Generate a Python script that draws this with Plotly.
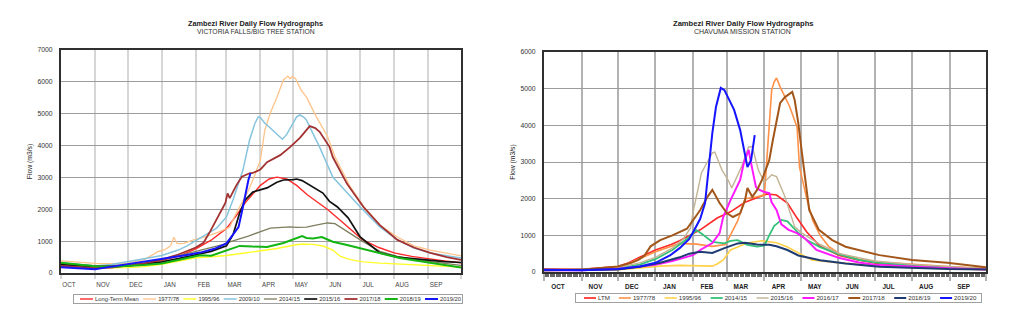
import plotly.graph_objects as go

# ---------------- common axis data ----------------
MONTHS = ["OCT", "NOV", "DEC", "JAN", "FEB", "MAR", "APR", "MAY", "JUN", "JUL", "AUG", "SEP", ""]
MONTH_START_DAYS = [0, 31, 61, 92, 123, 151, 182, 212, 243, 273, 304, 335, 365]

# ---------------- Victoria Falls / Big Tree (left) ----------------
VF_NAMES = ["Long-Term Mean", "1977/78", "1995/96", "2009/10", "2014/15",
            "2015/16", "2017/18", "2018/19", "2019/20"]

vf_ltm_d = [0, 15, 31, 46, 61, 76, 92, 107, 123, 137, 151, 160, 168, 182, 190, 197, 206, 215, 225, 235, 243, 255, 264, 275, 290, 304, 320, 335, 350, 365]
vf_ltm_v = [250, 210, 180, 200, 250, 300, 400, 520, 760, 1030, 1400, 1800, 2200, 2750, 2950, 3010, 2950, 2750, 2450, 2200, 2000, 1650, 1380, 1050, 800, 630, 520, 440, 380, 320]

vf_7778_d = [0, 15, 31, 46, 61, 76, 88, 95, 100, 103, 106, 112, 121, 133, 145, 154, 159, 165, 170, 176, 182, 186, 191, 197, 203, 207, 209, 211, 214, 219, 224, 233, 243, 250, 264, 276, 291, 307, 322, 337, 352, 365]
vf_7778_v = [380, 340, 300, 290, 310, 420, 660, 740, 850, 1120, 920, 930, 1040, 1150, 1300, 1440, 1820, 2200, 2510, 3000, 3550, 4490, 5020, 5520, 6060, 6180, 6100, 6170, 6100, 5750, 5520, 4900, 4300, 3650, 2700, 2100, 1500, 1130, 850, 720, 620, 540]

vf_9596_d = [0, 15, 31, 46, 61, 76, 92, 107, 123, 137, 151, 166, 182, 197, 212, 220, 230, 240, 248, 255, 264, 276, 291, 309, 335, 350, 365]
vf_9596_v = [230, 200, 170, 160, 170, 200, 270, 360, 480, 510, 550, 620, 690, 770, 870, 910, 900, 840, 720, 520, 420, 350, 310, 280, 240, 210, 190]

vf_0910_d = [0, 15, 31, 46, 61, 76, 92, 107, 115, 127, 142, 151, 157, 166, 172, 177, 180, 182, 186, 191, 197, 202, 206, 211, 215, 218, 222, 224, 230, 236, 248, 261, 273, 291, 307, 322, 337, 352, 365]
vf_0910_v = [320, 270, 220, 270, 350, 450, 550, 720, 850, 1100, 1410, 1760, 2300, 3230, 4170, 4700, 4900, 4880, 4700, 4550, 4350, 4200, 4350, 4650, 4900, 4960, 4880, 4800, 4400, 3950, 3010, 2510, 2070, 1450, 1040, 780, 630, 540, 470]

vf_1415_d = [0, 15, 31, 46, 61, 76, 92, 107, 123, 137, 151, 154, 171, 191, 209, 215, 224, 235, 243, 250, 261, 273, 291, 307, 322, 337, 352, 365]
vf_1415_v = [300, 260, 230, 230, 260, 320, 420, 540, 680, 800, 920, 980, 1160, 1410, 1450, 1430, 1440, 1520, 1570, 1550, 1300, 1040, 680, 520, 420, 350, 290, 240]

vf_1516_d = [0, 15, 31, 46, 61, 76, 92, 107, 123, 137, 151, 157, 163, 168, 175, 182, 188, 197, 203, 212, 215, 220, 230, 239, 245, 252, 262, 273, 291, 307, 321, 335, 350, 365]
vf_1516_v = [260, 230, 200, 200, 220, 280, 350, 450, 560, 680, 850, 1200, 1880, 2290, 2540, 2600, 2670, 2850, 2920, 2930, 2950, 2900, 2700, 2510, 2250, 2080, 1730, 1130, 630, 500, 450, 400, 360, 330]

vf_1718_d = [0, 15, 31, 46, 61, 76, 92, 107, 123, 130, 136, 145, 150, 152, 154, 160, 165, 172, 175, 182, 188, 200, 209, 218, 227, 232, 236, 245, 248, 261, 276, 291, 307, 322, 337, 352, 365]
vf_1718_v = [220, 180, 150, 170, 230, 300, 420, 580, 800, 950, 1300, 1870, 2200, 2500, 2350, 2750, 3020, 3130, 3140, 3250, 3480, 3700, 3950, 4240, 4610, 4550, 4430, 3960, 3640, 2800, 2070, 1500, 1040, 800, 630, 500, 410]

vf_1819_d = [0, 15, 31, 46, 61, 76, 92, 107, 123, 127, 137, 151, 163, 175, 188, 203, 220, 224, 230, 238, 248, 261, 273, 291, 309, 322, 337, 352, 365]
vf_1819_v = [320, 260, 210, 200, 220, 250, 300, 420, 540, 560, 540, 720, 850, 830, 820, 940, 1160, 1100, 1080, 1130, 980, 880, 780, 620, 470, 400, 320, 250, 170]

vf_1920_d = [0, 15, 31, 46, 66, 81, 97, 112, 127, 140, 151, 157, 162, 166, 171, 173]
vf_1920_v = [180, 150, 115, 200, 300, 380, 460, 550, 640, 760, 930, 1190, 1440, 2070, 2920, 3140]

VF_DAYS = [vf_ltm_d, vf_7778_d, vf_9596_d, vf_0910_d, vf_1415_d, vf_1516_d, vf_1718_d, vf_1819_d, vf_1920_d]
VF_VALS = [vf_ltm_v, vf_7778_v, vf_9596_v, vf_0910_v, vf_1415_v, vf_1516_v, vf_1718_v, vf_1819_v, vf_1920_v]
VF_COLORS = ["#ff2a2a", "#ffc48a", "#ffff2a", "#86c4de", "#7e7e5e", "#111111", "#a33232", "#14b414", "#1414ff"]
VF_WIDTHS = [1.4, 1.3, 1.4, 1.5, 1.3, 1.7, 1.8, 2.0, 2.0]

# ---------------- Chavuma Mission (right) ----------------
CH_NAMES = ["LTM", "1977/78", "1995/96", "2014/15", "2015/16",
            "2016/17", "2017/18", "2018/19", "2019/20"]

ch_ltm_d = [0, 31, 61, 70, 79, 92, 105, 112, 129, 143, 154, 166, 178, 184, 192, 201, 209, 217, 228, 244, 260, 273, 290, 306, 334, 365]
ch_ltm_v = [80, 75, 150, 250, 400, 600, 750, 850, 1150, 1470, 1640, 1900, 2050, 2130, 2100, 1880, 1470, 1090, 700, 450, 320, 250, 190, 160, 120, 90]

ch_7778_d = [0, 31, 61, 79, 92, 112, 126, 139, 150, 160, 166, 176, 182, 184, 186, 188, 190, 192, 195, 197, 203, 209, 211, 217, 222, 228, 235, 244, 260, 273, 306, 334, 365]
ch_7778_v = [60, 60, 100, 350, 550, 780, 760, 700, 750, 1400, 2000, 2050, 2100, 3050, 4060, 4960, 5180, 5290, 5050, 4910, 4500, 3950, 2860, 2000, 1400, 1000, 700, 500, 350, 280, 200, 150, 100]

ch_9596_d = [0, 31, 61, 79, 96, 112, 128, 139, 143, 148, 154, 168, 180, 192, 201, 212, 221, 244, 273, 306, 334, 365]
ch_9596_v = [40, 40, 60, 110, 160, 180, 170, 160, 220, 330, 600, 790, 850, 800, 680, 500, 330, 250, 170, 120, 90, 60]

ch_1415_d = [0, 31, 61, 79, 92, 106, 118, 126, 130, 139, 149, 154, 160, 168, 176, 182, 186, 190, 196, 201, 209, 217, 228, 244, 260, 273, 306, 334, 365]
ch_1415_v = [60, 60, 100, 200, 350, 600, 900, 1140, 1050, 820, 780, 850, 870, 740, 690, 720, 1000, 1250, 1420, 1380, 1100, 870, 680, 480, 330, 260, 170, 120, 80]

ch_1516_d = [0, 31, 61, 79, 92, 106, 115, 121, 123, 130, 139, 141, 147, 152, 155, 163, 169, 172, 177, 182, 188, 192, 199, 207, 213, 228, 244, 260, 273, 306, 334, 365]
ch_1516_v = [70, 70, 120, 250, 400, 650, 900, 1200, 1610, 2700, 3250, 3270, 2780, 2510, 2290, 2860, 3410, 3420, 2780, 2450, 2650, 2600, 2050, 1230, 1060, 750, 500, 380, 300, 200, 140, 90]

ch_1617_d = [0, 31, 61, 79, 92, 106, 118, 123, 129, 139, 145, 148, 154, 162, 165, 169, 171, 175, 178, 182, 186, 188, 192, 196, 202, 209, 216, 225, 244, 260, 273, 306, 334, 365]
ch_1617_v = [50, 50, 80, 150, 200, 300, 400, 460, 600, 790, 1060, 1500, 1960, 2510, 2970, 3330, 2970, 2320, 2240, 2180, 2150, 1900, 1690, 1300, 1150, 1060, 900, 600, 380, 260, 200, 140, 100, 70]

ch_1718_d = [0, 31, 61, 72, 78, 83, 88, 92, 96, 106, 118, 125, 129, 135, 139, 145, 151, 156, 162, 166, 168, 172, 176, 180, 186, 189, 195, 199, 205, 207, 210, 213, 219, 227, 238, 249, 277, 304, 333, 365]
ch_1718_v = [60, 60, 150, 250, 330, 450, 700, 790, 870, 1000, 1180, 1500, 1690, 2050, 2240, 1880, 1610, 1500, 1600, 1960, 2290, 2050, 2240, 2510, 3050, 3600, 4610, 4770, 4910, 4690, 4060, 3250, 1690, 1150, 870, 690, 460, 330, 250, 130]

ch_1819_d = [0, 31, 61, 79, 96, 112, 120, 129, 133, 139, 149, 160, 166, 176, 186, 192, 201, 210, 228, 249, 277, 306, 334, 365]
ch_1819_v = [50, 50, 70, 140, 250, 400, 500, 550, 530, 520, 650, 780, 800, 750, 740, 700, 600, 450, 320, 230, 140, 110, 80, 70]

ch_1920_d = [0, 31, 61, 79, 92, 104, 112, 120, 125, 129, 133, 135, 137, 139, 142, 146, 149, 152, 157, 162, 166, 168, 171, 174]
ch_1920_v = [60, 50, 80, 150, 250, 450, 650, 900, 1200, 1450, 1880, 2510, 3050, 3790, 4500, 5020, 4960, 4740, 4420, 3870, 3250, 2860, 3050, 3730]

CH_DAYS = [ch_ltm_d, ch_7778_d, ch_9596_d, ch_1415_d, ch_1516_d, ch_1617_d, ch_1718_d, ch_1819_d, ch_1920_d]
CH_VALS = [ch_ltm_v, ch_7778_v, ch_9596_v, ch_1415_v, ch_1516_v, ch_1617_v, ch_1718_v, ch_1819_v, ch_1920_v]
CH_COLORS = ["#ff2a2a", "#ff9148", "#ffd24a", "#34c27a", "#c2b494", "#ff1aff", "#a3561a", "#1e3b72", "#1414ff"]
CH_WIDTHS = [1.7, 1.6, 1.6, 1.8, 1.4, 2.0, 2.0, 2.0, 2.0]

FONT = "Liberation Sans, Arial, sans-serif"
W, H = 1024, 334

fig = go.Figure()
for name, d, v, c, w in zip(VF_NAMES, VF_DAYS, VF_VALS, VF_COLORS, VF_WIDTHS):
    fig.add_trace(go.Scatter(x=d, y=v, name=name, mode="lines", line=dict(color=c, width=w),
                             xaxis="x", yaxis="y", legend="legend"))
for name, d, v, c, w in zip(CH_NAMES, CH_DAYS, CH_VALS, CH_COLORS, CH_WIDTHS):
    fig.add_trace(go.Scatter(x=d, y=v, name=name, mode="lines", line=dict(color=c, width=w),
                             xaxis="x2", yaxis="y2", legend="legend2"))


def xax(domain, anchor, gridcolor, gridwidth, tickcolor, ticklen, shift, standoff, fsize, fcolor,
        weight="normal", minor=None):
    ax = dict(domain=domain, anchor=anchor, range=[0, 365], tickmode="array",
              tickvals=MONTH_START_DAYS, ticktext=MONTHS, showgrid=True,
              gridcolor=gridcolor, gridwidth=gridwidth, ticks="outside", ticklen=ticklen,
              tickcolor=tickcolor, tickwidth=gridwidth, ticklabelshift=shift,
              ticklabelstandoff=standoff, showline=True, linecolor="#303030", linewidth=2,
              mirror=True, zeroline=False, fixedrange=True,
              tickfont=dict(family=FONT, size=fsize, color=fcolor, weight=weight))
    if minor:
        ax["minor"] = minor
    return ax


def yax(domain, anchor, top, gridcolor, fsize):
    return dict(domain=domain, anchor=anchor, range=[0, top], tickmode="linear", tick0=0,
                dtick=1000, showgrid=True, gridcolor=gridcolor, gridwidth=1.3, ticks="",
                ticklabelstandoff=5, showline=True, linecolor="#303030", linewidth=2,
                mirror=True, zeroline=False, fixedrange=True,
                tickfont=dict(family=FONT, size=fsize, color="#333333"),
                title=dict(text="Flow (m3/s)", standoff=4,
                           font=dict(family=FONT, size=fsize, color="#222222")))


fig.update_layout(
    width=W, height=H, margin=dict(l=0, r=0, t=0, b=0, autoexpand=False),
    paper_bgcolor="white", plot_bgcolor="white",
    font=dict(family=FONT, size=7, color="#333333"),
    xaxis=xax([61 / W, 461 / W], "y", "#d6d6d6", 2, "#d6d6d6", 4, 8, 0, 6.3, "#444444"),
    yaxis=yax([61 / H, 284 / H], "x", 7000, "#9c9c9c", 6.8),
    xaxis2=xax([544 / W, 986 / W], "y2", "#b2b2b2", 1.5, "#b2b2b2", 7, 14, 0, 6.4, "#222222",
               weight="bold",
               minor=dict(ticks="outside", ticklen=3, tickcolor="#666666", tickwidth=1,
                          tickmode="linear", tick0=0, dtick=1, showgrid=False)),
    yaxis2=yax([62 / H, 282 / H], "x2", 6000, "#9c9c9c", 6.8),
    # legends start at the left edge so they never wrap; the script below moves them into place
    legend=dict(orientation="h", x=0, y=(H - 294) / H, xanchor="left", yanchor="top",
                bgcolor="white", bordercolor="#a0a0a0", borderwidth=1,
                font=dict(family=FONT, size=5.8, color="#333333"), itemwidth=30),
    legend2=dict(orientation="h", x=0, y=(H - 293) / H, xanchor="left", yanchor="top",
                 bgcolor="white", bordercolor="#a0a0a0", borderwidth=1,
                 font=dict(family=FONT, size=6.2, color="#333333"), itemwidth=30),
    annotations=[
        dict(text="<b>Zambezi River Daily Flow Hydrographs</b>", x=255 / W, y=(H - 23) / H,
             xref="paper", yref="paper", showarrow=False, xanchor="center", yanchor="middle",
             font=dict(family=FONT, size=7.3, color="#222222")),
        dict(text="VICTORIA FALLS/BIG TREE STATION", x=256 / W, y=(H - 32) / H,
             xref="paper", yref="paper", showarrow=False, xanchor="center", yanchor="middle",
             font=dict(family=FONT, size=6.8, color="#333333")),
        dict(text="<b>Zambezi River Daily Flow Hydrographs</b>", x=743 / W, y=(H - 23) / H,
             xref="paper", yref="paper", showarrow=False, xanchor="center", yanchor="middle",
             font=dict(family=FONT, size=7.6, color="#222222")),
        dict(text="CHAVUMA MISSION STATION", x=742 / W, y=(H - 32) / H,
             xref="paper", yref="paper", showarrow=False, xanchor="center", yanchor="middle",
             font=dict(family=FONT, size=7.0, color="#333333")),
    ],
    showlegend=True,
)

# compact legend layout (short line samples, single row, fixed box) like the original charts
post_js = """
var gd = document.getElementById('{plot_id}');
function fixLegend(cls, left, top, W, H, L, tg, padL, padR){
  var lg = gd.querySelector('g.' + cls);
  if(!lg) return;
  var traces = lg.querySelectorAll('g.traces');
  if(!traces.length) return;
  lg.setAttribute('transform', 'translate(' + left + ',' + top + ')');
  var sb = lg.querySelector('g.scrollbox');
  if(sb){ sb.removeAttribute('clip-path'); sb.setAttribute('transform','translate(0,0)'); }
  var sbar = lg.querySelector('rect.scrollbar');
  if(sbar){ sbar.setAttribute('width', 0); sbar.setAttribute('height', 0); }
  var widths = [];
  var total = 0;
  traces.forEach(function(t){
    var p = t.querySelector('path.js-line');
    if(p) p.setAttribute('d', 'M0,0h' + L);
    var tx = t.querySelector('text.' + cls + 'text') || t.querySelector('text');
    var w = 0;
    if(tx){
      tx.setAttribute('x', L + tg);
      w = tx.getBBox().width;
    }
    widths.push(w);
    total += L + tg + w;
  });
  var gap = (W - padL - padR - total) / Math.max(1, traces.length - 1);
  var x = padL;
  traces.forEach(function(t, i){
    t.setAttribute('transform', 'translate(' + x + ',' + (H / 2) + ')');
    x += L + tg + widths[i] + gap;
  });
  var bg = lg.querySelector('rect.bg');
  if(bg){ bg.setAttribute('x', 0.5); bg.setAttribute('y', 0.5);
          bg.setAttribute('width', W - 1); bg.setAttribute('height', H - 1); }
}
function fixAll(){
  try { fixLegend('legend', 73, 294, 390, 10, 13, 2, 7, 2); } catch(e) {}
  try { fixLegend('legend2', 575, 293, 407, 10, 12, 2, 9, 5); } catch(e) {}
}
fixAll();
setTimeout(fixAll, 30);
setTimeout(fixAll, 200);
if(gd.on){ gd.on('plotly_afterplot', function(){ setTimeout(fixAll, 0); }); }
"""

fig.write_html("out.html", post_script=post_js, config={"responsive": False, "displayModeBar": False})
